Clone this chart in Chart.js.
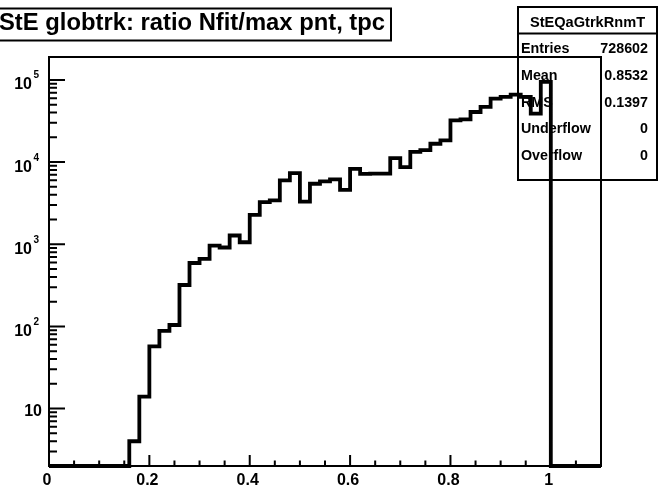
<!DOCTYPE html>
<html lang="en">
<head>
<meta charset="UTF-8">
<title>StE globtrk: ratio Nfit/max pnt, tpc</title>
<script src="https://cdn.jsdelivr.net/npm/chart.js"></script>
<style>
    html, body { margin: 0; padding: 0; background: #fff; overflow: hidden; }
    #wrap { width: 659px; height: 489px; }
</style>
</head>
<body>
<div id="wrap"><canvas id="histChart" width="659" height="489"></canvas></div>
<script>
    // bin edges of the histogram (55 bins of 0.02 from 0 to 1.1)
    const binEdges = [0, 0.02, 0.04, 0.06, 0.08, 0.1, 0.12, 0.14, 0.16, 0.18,
        0.2, 0.22, 0.24, 0.26, 0.28, 0.3, 0.32, 0.34, 0.36, 0.38,
        0.4, 0.42, 0.44, 0.46, 0.48, 0.5, 0.52, 0.54, 0.56, 0.58,
        0.6, 0.62, 0.64, 0.66, 0.68, 0.7, 0.72, 0.74, 0.76, 0.78,
        0.8, 0.82, 0.84, 0.86, 0.88, 0.9, 0.92, 0.94, 0.96, 0.98,
        1.0, 1.02, 1.04, 1.06, 1.08, 1.1];
    // counts per bin
    const binCounts = [0, 0, 0, 0, 0, 0, 0, 0, 4, 14,
        57, 88, 104, 319, 591, 662, 964, 912, 1277, 1057,
        2278, 3252, 3412, 5980, 7343, 3300, 5450, 5820, 6150, 4590,
        8280, 7200, 7250, 7250, 11190, 8690, 13300, 14000, 16700, 18400,
        32250, 33000, 40700, 46850, 59200, 62100, 66200, 62000, 38800, 94600,
        0, 0, 0, 0, 0];

    const xTickValues = [0, 0.2, 0.4, 0.6, 0.8, 1];
    const xTickLabels = ['0', '0.2', '0.4', '0.6', '0.8', '1'];
    const yTickValues = [10, 100, 1000, 10000, 100000];
    const yTickExps = ['', '2', '3', '4', '5'];

    const titleText = 'StE globtrk: ratio Nfit/max pnt, tpc';
    const histName = 'StEQaGtrkRnmT';
    const statsLabels = ['Entries', 'Mean', 'RMS', 'Underflow', 'Overflow'];
    const statsValues = ['728602', '0.8532', '0.1397', '0', '0'];

    const xMin = 0, xMax = 1.1;
    const yMin = 2, yMax = 1.9e5;

    // empty bins sit on the bottom of the frame like ROOT does on a log axis
    const points = binCounts.map((c, i) => ({ x: binEdges[i], y: c > 0 ? c : yMin }));
    points.push({ x: binEdges[binEdges.length - 1], y: points[points.length - 1].y });

    const FONT = '"Liberation Sans", Arial, Helvetica, sans-serif';

    const rootStyle = {
        id: 'rootStyle',
        beforeDatasetsDraw(chart) {
            const { ctx, chartArea: a, scales: { x, y } } = chart;
            ctx.save();
            ctx.strokeStyle = '#000';
            ctx.lineWidth = 2;
            ctx.strokeRect(a.left, a.top, a.right - a.left, a.bottom - a.top);

            ctx.beginPath();
            // x axis ticks: 0.2 primary, 4 secondary divisions
            for (let k = 1; k * 0.05 < xMax - 1e-9; k++) {
                const px = x.getPixelForValue(k * 0.05);
                ctx.moveTo(px, a.bottom);
                ctx.lineTo(px, a.bottom - (k % 4 === 0 ? 11 : 5.5));
            }
            // y axis ticks on the log scale
            for (let e = 0; e <= 5; e++) {
                for (let m = 1; m <= 9; m++) {
                    const v = m * Math.pow(10, e);
                    if (v <= yMin || v >= yMax) continue;
                    const py = y.getPixelForValue(v);
                    ctx.moveTo(a.left, py);
                    ctx.lineTo(a.left + (m === 1 ? 16 : 8), py);
                }
            }
            ctx.stroke();
            ctx.restore();
        },
        afterDraw(chart) {
            const { ctx, chartArea: a, scales: { x, y } } = chart;
            ctx.save();
            ctx.fillStyle = '#000';
            ctx.strokeStyle = '#000';

            // x labels
            ctx.font = 'bold 16px ' + FONT;
            ctx.textAlign = 'center';
            ctx.textBaseline = 'alphabetic';
            xTickValues.forEach((v, i) => {
                ctx.fillText(xTickLabels[i], x.getPixelForValue(v) - 2, 485);
            });

            // y labels with exponents
            yTickValues.forEach((v, i) => {
                const py = y.getPixelForValue(v);
                ctx.font = 'bold 16px ' + FONT;
                if (yTickExps[i] === '') {
                    ctx.textAlign = 'right';
                    ctx.fillText('10', 42, py + 7);
                } else {
                    ctx.textAlign = 'right';
                    ctx.fillText('10', 32, py + 9.5);
                    ctx.font = 'bold 10px ' + FONT;
                    ctx.textAlign = 'left';
                    ctx.fillText(yTickExps[i], 33.5, py - 1.5);
                }
            });

            // title box
            ctx.lineWidth = 2;
            ctx.strokeRect(-2, 8.5, 393, 32);
            ctx.font = 'bold 23.8px ' + FONT;
            ctx.textAlign = 'left';
            ctx.fillText(titleText, -1, 30);

            // stats box (transparent)
            ctx.strokeRect(518, 7, 139, 173);
            ctx.beginPath();
            ctx.moveTo(518, 33.5);
            ctx.lineTo(657, 33.5);
            ctx.stroke();
            ctx.font = 'bold 14.6px ' + FONT;
            ctx.textAlign = 'center';
            ctx.fillText(histName, 587.5, 27);
            ctx.font = 'bold 14.3px ' + FONT;
            statsLabels.forEach((lab, i) => {
                const base = 53 + i * 26.8;
                ctx.textAlign = 'left';
                ctx.fillText(lab, 521, base);
                ctx.textAlign = 'right';
                ctx.fillText(statsValues[i], 648, base);
            });
            ctx.restore();
        }
    };

    new Chart(document.getElementById('histChart').getContext('2d'), {
        type: 'line',
        data: {
            datasets: [{
                label: histName,
                data: points,
                borderColor: '#000',
                borderWidth: 3.8,
                pointRadius: 0,
                stepped: 'before',
                fill: false,
                clip: false
            }]
        },
        options: {
            responsive: false,
            animation: false,
            devicePixelRatio: 1,
            layout: { padding: { left: 49, top: 57, right: 58, bottom: 23 } },
            plugins: { legend: { display: false }, tooltip: { enabled: false } },
            scales: {
                x: { type: 'linear', min: xMin, max: xMax, display: false },
                y: { type: 'logarithmic', min: yMin, max: yMax, display: false }
            }
        },
        plugins: [rootStyle]
    });
</script>
</body>
</html>
